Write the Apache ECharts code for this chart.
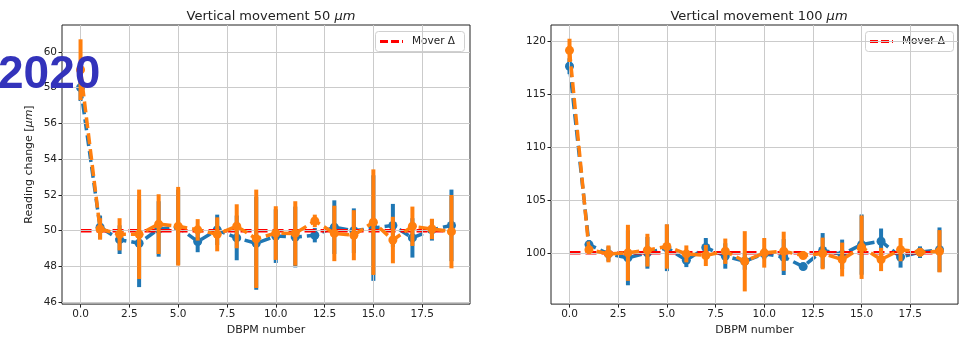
<!DOCTYPE html>
<html><head><meta charset="utf-8">
<script src="https://cdn.jsdelivr.net/npm/echarts@6/dist/echarts.min.js"></script>
<style>html,body{margin:0;padding:0;background:#fff}#c{width:966px;height:341px}</style>
</head><body><div id="c"></div>
<script>
const dbpm = [0,1,2,3,4,5,6,7,8,9,10,11,12,13,14,15,16,17,18,19];
const xTicks = [0,2.5,5,7.5,10,12.5,15,17.5];
const yTicks50 = [46,48,50,52,54,56,58,60];
const yTicks100 = [100,105,110,115,120];
const mover50 = 50;
const mover100 = 100;
const blue50 = [58.0,50.2,49.5,49.3,50.1,50.2,49.4,50.05,49.6,49.3,49.7,49.65,49.75,50.2,50.0,50.15,50.3,49.6,50.05,50.3];
const blue50Err = [0.75,0.65,0.8,2.45,1.55,2.1,0.6,0.85,1.25,2.6,1.5,1.7,0.4,1.5,1.25,2.95,1.2,1.1,0.6,2.0];
const orange50 = [59.0,50.1,49.8,49.8,50.37,50.25,50.05,49.8,50.25,49.55,49.87,49.85,50.55,49.85,49.75,50.48,49.48,50.25,50.1,49.95];
const orange50Err = [1.7,0.6,0.9,2.5,1.67,2.2,0.6,0.95,1.23,2.75,1.5,1.8,0.35,1.55,1.4,2.95,1.3,1.1,0.57,2.05];
const blue100 = [117.65,100.78,99.9,99.53,100.0,100.47,99.3,100.5,99.7,99.2,99.9,99.6,98.7,100.22,99.85,100.78,101.1,99.6,100.06,100.3];
const blue100Err = [0.75,0.4,0.7,2.6,1.5,2.2,0.65,0.9,1.2,0.8,0.5,1.7,0.3,1.65,1.4,2.85,1.2,1.0,0.55,2.1];
const orange100 = [119.15,100.3,99.9,100.0,100.25,100.6,99.9,99.75,100.15,99.2,100.0,100.15,99.75,99.94,99.37,100.53,99.37,100.3,100.06,100.15];
const orange100Err = [1.1,0.4,0.8,2.65,1.55,2.1,0.8,1.0,1.2,2.85,1.4,1.85,0.2,1.5,1.6,3.0,1.1,1.1,0.4,2.0];
const legendLabel = 'Mover Δ';

const BLUE = '#1f77b4', ORANGE = '#ff7f0e', RED = '#ff0000';
const FONT = 'DejaVu Sans';
const GRIDC = '#cbcbcb';

function pts(vals){ return dbpm.map((x,i)=>[x, vals[i]]); }
function errs(vals, e){ return dbpm.map((x,i)=>[x, vals[i]-e[i], vals[i]+e[i]]); }
function errSeries(idx, data, color, z){
  return {type:'custom', xAxisIndex:idx, yAxisIndex:idx, z:z, silent:true,
    encode:{x:0, y:[1,2]}, data:data,
    renderItem:function(params, api){
      const a = api.coord([api.value(0), api.value(1)]);
      const b = api.coord([api.value(0), api.value(2)]);
      return {type:'line', shape:{x1:a[0],y1:a[1],x2:b[0],y2:b[1]}, style:{stroke:color, lineWidth:4}};
    }};
}
function lineSeries(idx, data, color, z){
  return {type:'line', xAxisIndex:idx, yAxisIndex:idx, z:z, data:data, symbol:'circle', symbolSize:9,
    itemStyle:{color:color}, lineStyle:{color:color, width:3.5, type:[11,5]}, animation:false, silent:true};
}
function moverSeries(idx, val, z){
  return {type:'line', name:legendLabel, xAxisIndex:idx, yAxisIndex:idx, z:z, symbol:'none',
    data:[[dbpm[0], val],[dbpm[dbpm.length-1], val]],
    itemStyle:{color:RED}, lineStyle:{color:RED, width:3.5, type:[11,5]}, animation:false, silent:true};
}
function gridSeries(idx, yTicks){
  const d = xTicks.map(v=>({xAxis:v})).concat(yTicks.map(v=>({yAxis:v})));
  return {type:'line', xAxisIndex:idx, yAxisIndex:idx, z:1, data:[], silent:true, animation:false,
    markLine:{silent:true, symbol:['none','none'], label:{show:false}, animation:false,
      lineStyle:{color:GRIDC, width:1, type:'solid'}, emphasis:{disabled:true}, data:d}};
}
function xAx(idx){
  return {type:'value', gridIndex:idx, min:-0.95, max:19.95, position:'bottom',
    name:'DBPM number', nameLocation:'middle', nameGap:20,
    nameTextStyle:{fontFamily:FONT, fontSize:11, color:'#222'},
    axisLine:{show:false, onZero:false},
    axisTick:{show:true, length:3.5, customValues:xTicks, lineStyle:{color:'#222'}},
    axisLabel:{customValues:xTicks, fontFamily:FONT, fontSize:10.5, color:'#222', margin:5,
      formatter:v=>v.toFixed(1)},
    splitLine:{show:false}};
}
function yAx(idx, min, max, ticks, withName){
  const ax = {type:'value', gridIndex:idx, min:min, max:max, position:'left',
    axisLine:{show:false, onZero:false},
    axisTick:{show:true, length:3.5, customValues:ticks, lineStyle:{color:'#222'}},
    axisLabel:{customValues:ticks, fontFamily:FONT, fontSize:10.5, color:'#222', margin:5},
    splitLine:{show:false}};
  if (withName){
    ax.name = '{a|Reading change [}{b|μm}{a|]}';
    ax.nameLocation = 'middle'; ax.nameGap = 27; ax.nameRotate = 90;
    ax.nameTextStyle = {rich:{a:{fontFamily:FONT, fontSize:11, color:'#222'}, b:{fontFamily:FONT, fontSize:11, fontStyle:'italic', color:'#222'}}};
  }
  return ax;
}
function legendBox(x0, w){
  return {type:'group', z:50, children:[
    {type:'rect', shape:{x:x0+0.5, y:31.5, width:w, height:20, r:3}, style:{fill:'rgba(255,255,255,0.85)', stroke:'#d0d0d0', lineWidth:1}},
    {type:'line', shape:{x1:x0+5, y1:41.5, x2:x0+28, y2:41.5}, style:{stroke:RED, lineWidth:3, lineDash:[8,3]}},
    {type:'text', x:x0+37, y:41.5, style:{text:legendLabel, fontFamily:FONT, fontSize:10.5, fill:'#222', verticalAlign:'middle', align:'left'}}
  ]};
}
function titleAt(x, num){
  return {text:'{a|Vertical movement '+num+' }{b|μm}', left:x, top:5, textAlign:'center',
    textStyle:{fontWeight:'normal', rich:{a:{fontFamily:FONT, fontSize:13, fontWeight:'normal', color:'#222'}, b:{fontFamily:FONT, fontSize:13, fontWeight:'normal', fontStyle:'italic', color:'#222'}}}};
}

const chart = echarts.init(document.getElementById('c'), null, {renderer:'canvas'});
chart.setOption({
  animation:false,
  backgroundColor:'#fff',
  title:[titleAt(266, 50), titleAt(754, 100)],
  grid:[
    {left:62, top:25, width:408, height:282, show:true, borderColor:'#222', borderWidth:1, backgroundColor:'transparent'},
    {left:551, top:25, width:407, height:282, show:true, borderColor:'#222', borderWidth:1, backgroundColor:'transparent'}
  ],
  xAxis:[xAx(0), xAx(1)],
  yAxis:[yAx(0, 45.9, 61.5, yTicks50, true), yAx(1, 95.15, 121.55, yTicks100, false)],
  series:[
    gridSeries(0, yTicks50),
    errSeries(0, errs(blue50, blue50Err), BLUE, 2),
    lineSeries(0, pts(blue50), BLUE, 3),
    moverSeries(0, mover50, 4),
    errSeries(0, errs(orange50, orange50Err), ORANGE, 5),
    lineSeries(0, pts(orange50), ORANGE, 6),
    gridSeries(1, yTicks100),
    errSeries(1, errs(blue100, blue100Err), BLUE, 2),
    lineSeries(1, pts(blue100), BLUE, 3),
    moverSeries(1, mover100, 4),
    errSeries(1, errs(orange100, orange100Err), ORANGE, 5),
    lineSeries(1, pts(orange100), ORANGE, 6)
  ],
  graphic:[
    legendBox(375, 89),
    legendBox(865, 88),
    {type:'text', left:-2, top:52, z:100,
     style:{text:'2020', fontFamily:'Liberation Sans', fontWeight:'bold', fontSize:46, fill:'#3333bb'}}
  ]
});
</script></body></html>
